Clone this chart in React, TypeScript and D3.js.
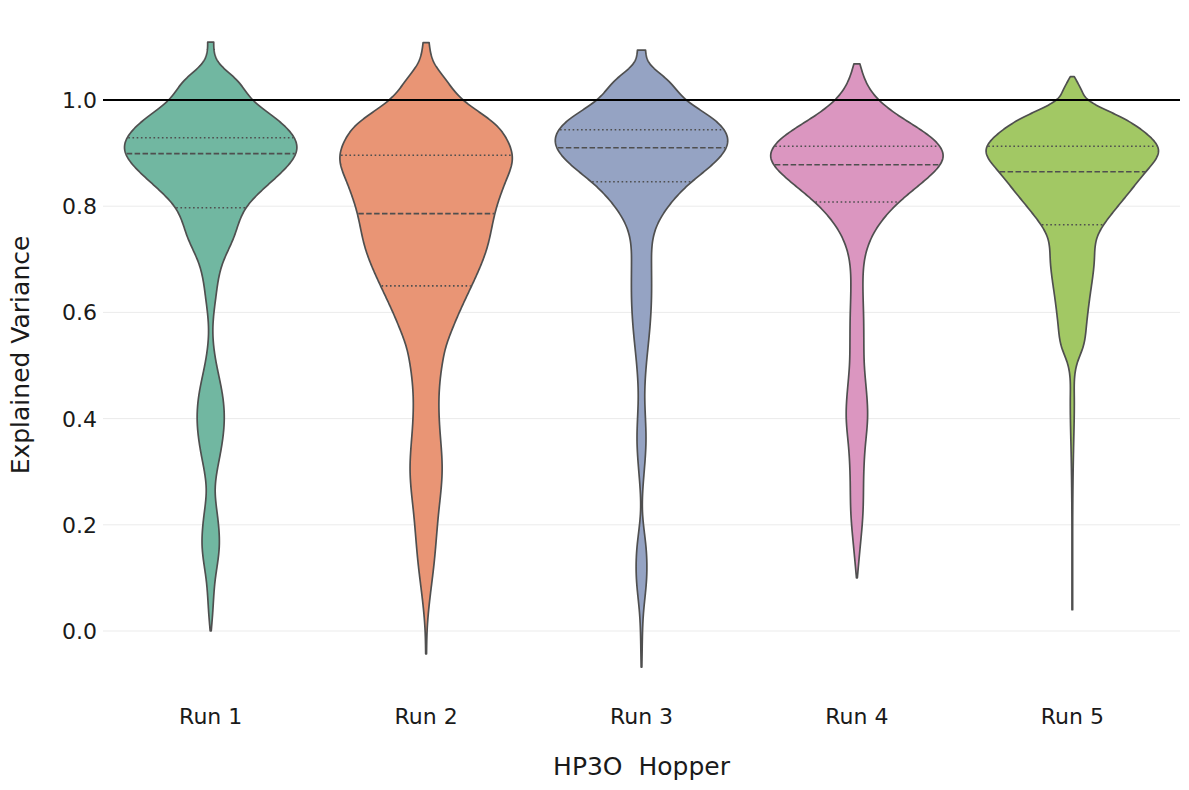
import React from "react";
import * as d3 from "d3";

const runs = ["Run 1", "Run 2", "Run 3", "Run 4", "Run 5"];
const colors = ["#71b7a1", "#e99575", "#95a3c3", "#db96c0", "#a2c864"];
const yTicks = [0.0, 0.2, 0.4, 0.6, 0.8, 1.0];

// [value, relative density]
const run1Density: [number, number][] = [
  [1.109, 0.035], [1.069, 0.10], [1.038, 0.30], [1.0, 0.49], [0.962, 0.78],
  [0.909, 1.0], [0.862, 0.81], [0.799, 0.42], [0.742, 0.27], [0.693, 0.14],
  [0.629, 0.06], [0.567, 0.025], [0.505, 0.064], [0.441, 0.14], [0.397, 0.157],
  [0.328, 0.105], [0.266, 0.052], [0.222, 0.075], [0.158, 0.099], [0.096, 0.052],
  [0.034, 0.023], [0.0, 0.006],
];
const run2Density: [number, number][] = [
  [1.108, 0.035], [1.07, 0.093], [1.038, 0.23], [1.0, 0.43], [0.956, 0.79],
  [0.925, 0.94], [0.887, 1.0], [0.849, 0.93], [0.787, 0.80], [0.723, 0.71],
  [0.661, 0.56], [0.598, 0.38], [0.567, 0.30], [0.535, 0.23], [0.505, 0.19],
  [0.441, 0.15], [0.379, 0.16], [0.303, 0.186], [0.222, 0.145], [0.128, 0.093],
  [0.064, 0.046], [0.002, 0.012], [-0.043, 0.005],
];
const run3Density: [number, number][] = [
  [1.094, 0.047], [1.069, 0.093], [1.038, 0.30], [1.0, 0.52], [0.962, 0.85],
  [0.921, 1.0], [0.881, 0.84], [0.844, 0.57], [0.799, 0.31], [0.755, 0.16],
  [0.693, 0.116], [0.629, 0.116], [0.567, 0.095], [0.505, 0.058], [0.441, 0.038],
  [0.36, 0.052], [0.284, 0.023], [0.222, 0.012], [0.158, 0.052], [0.096, 0.058],
  [0.034, 0.023], [-0.03, 0.008], [-0.068, 0.004],
];
const run4Density: [number, number][] = [
  [1.068, 0.035], [1.031, 0.116], [1.0, 0.256], [0.969, 0.50], [0.931, 0.85],
  [0.893, 1.0], [0.856, 0.84], [0.812, 0.52], [0.768, 0.27], [0.718, 0.116],
  [0.655, 0.07], [0.591, 0.078], [0.535, 0.081], [0.505, 0.085], [0.441, 0.116],
  [0.403, 0.124], [0.347, 0.097], [0.284, 0.078], [0.222, 0.07], [0.158, 0.038],
  [0.1, 0.005],
];
const run5Density: [number, number][] = [
  [1.044, 0.023], [1.019, 0.105], [1.0, 0.186], [0.969, 0.55], [0.938, 0.85],
  [0.906, 1.0], [0.868, 0.87], [0.824, 0.65], [0.787, 0.465], [0.742, 0.29],
  [0.699, 0.256], [0.636, 0.21], [0.573, 0.163], [0.535, 0.125], [0.505, 0.058],
  [0.441, 0.023], [0.347, 0.015], [0.252, 0.006], [0.19, 0.004], [0.04, 0.003],
];
const densities = [run1Density, run2Density, run3Density, run4Density, run5Density];

// [Q1, median, Q3]
const quartiles: [number, number, number][] = [
  [0.797, 0.899, 0.929],
  [0.650, 0.786, 0.896],
  [0.846, 0.910, 0.944],
  [0.808, 0.878, 0.913],
  [0.765, 0.865, 0.913],
];
const referenceLine = 1.0;

const W = 1189;
const H = 790;
const left = 103;
const right = 1180;

// Linear interpolation of a profile
function interp(sorted: [number, number][], v: number) {
  for (let i = 0; i < sorted.length - 1; i++) {
    const [v0, d0] = sorted[i];
    const [v1, d1] = sorted[i + 1];
    if (v >= v0 && v <= v1) {
      const t = (v - v0) / (v1 - v0);
      return d0 + t * (d1 - d0);
    }
  }
  return 0;
}

// Natural cubic spline through the read points, sampled finely (smooth KDE-like outline)
function splineProfile(dens: [number, number][], step = 0.002) {
  const p = [...dens].sort((a, b) => a[0] - b[0]);
  const n = p.length;
  const xs = p.map((d) => d[0]);
  const ys = p.map((d) => d[1]);
  const h: number[] = [];
  for (let i = 0; i < n - 1; i++) h.push(xs[i + 1] - xs[i]);
  // solve tridiagonal for second derivatives M
  const a = new Array(n).fill(0);
  const b = new Array(n).fill(1);
  const c = new Array(n).fill(0);
  const r = new Array(n).fill(0);
  for (let i = 1; i < n - 1; i++) {
    a[i] = h[i - 1];
    b[i] = 2 * (h[i - 1] + h[i]);
    c[i] = h[i];
    r[i] = 6 * ((ys[i + 1] - ys[i]) / h[i] - (ys[i] - ys[i - 1]) / h[i - 1]);
  }
  for (let i = 1; i < n; i++) {
    const m = a[i] / b[i - 1];
    b[i] -= m * c[i - 1];
    r[i] -= m * r[i - 1];
  }
  const M = new Array(n).fill(0);
  M[n - 1] = r[n - 1] / b[n - 1];
  for (let i = n - 2; i >= 0; i--) M[i] = (r[i] - c[i] * M[i + 1]) / b[i];
  const out: [number, number][] = [];
  for (let i = 0; i < n - 1; i++) {
    const steps = Math.max(2, Math.ceil(h[i] / step));
    for (let s = 0; s < steps; s++) {
      const t = xs[i] + (h[i] * s) / steps;
      const A = (xs[i + 1] - t) / h[i];
      const B = (t - xs[i]) / h[i];
      const val =
        A * ys[i] + B * ys[i + 1] +
        ((A ** 3 - A) * M[i] + (B ** 3 - B) * M[i + 1]) * (h[i] ** 2) / 6;
      out.push([t, Math.max(val, 0.004)]);
    }
  }
  out.push([xs[n - 1], ys[n - 1]]);
  return out;
}

export default function App() {
  const x = d3.scaleBand<string>().domain(runs).range([left, right]).padding(0);
  const y = d3.scaleLinear().domain([0, 1]).range([631, 100]);
  const wScale = d3.scaleLinear().domain([0, 1]).range([0, x.bandwidth() * 0.4]);
  const lineColor = "#4f4f4f";

  return (
    <svg width={W} height={H} style={{ display: "block", position: "absolute", left: 0, top: 0 }}
      fontFamily="DejaVu Sans, sans-serif">
      <rect x={0} y={0} width={W} height={H} fill="#ffffff" />
      {yTicks.map((t) => (
        <g key={t}>
          <line x1={left} x2={right} y1={y(t)} y2={y(t)} stroke="#ebebeb" strokeWidth={1} />
          <text x={97} y={y(t)} dy="0.36em" textAnchor="end" fontSize={22} fill="#1a1a1a">
            {t.toFixed(1)}
          </text>
        </g>
      ))}
      {runs.map((r, i) => {
        const cx = (x(r) as number) + x.bandwidth() / 2;
        const prof = splineProfile(densities[i]);
        const area = d3
          .area<[number, number]>()
          .y((d) => y(d[0]))
          .x0((d) => cx - wScale(d[1]))
          .x1((d) => cx + wScale(d[1]))
          .curve(d3.curveLinear);
        const q = quartiles[i];
        return (
          <g key={r}>
            <path d={area(prof) || ""} fill={colors[i]} stroke={lineColor} strokeWidth={1.7}
              strokeLinejoin="round" />
            {q.map((v, k) => {
              const hw = wScale(interp(prof, v));
              return (
                <line
                  key={k}
                  x1={cx - hw + 1}
                  x2={cx + hw - 1}
                  y1={y(v)}
                  y2={y(v)}
                  stroke={lineColor}
                  strokeWidth={1.6}
                  strokeDasharray={k === 1 ? "5.5,2.4" : "1.6,2.6"}
                />
              );
            })}
            <text x={cx} y={724} textAnchor="middle" fontSize={22} fill="#1a1a1a">
              {r}
            </text>
          </g>
        );
      })}
      <line x1={left} x2={right} y1={y(referenceLine)} y2={y(referenceLine)} stroke="#000000" strokeWidth={2} />
      <text x={(left + right) / 2} y={775} textAnchor="middle" fontSize={25} fill="#1a1a1a"
        style={{ whiteSpace: "pre" }}>
        {"HP3O  Hopper"}
      </text>
      <text transform={`translate(29,355) rotate(-90)`} textAnchor="middle" fontSize={25} fill="#1a1a1a">
        Explained Variance
      </text>
    </svg>
  );
}
